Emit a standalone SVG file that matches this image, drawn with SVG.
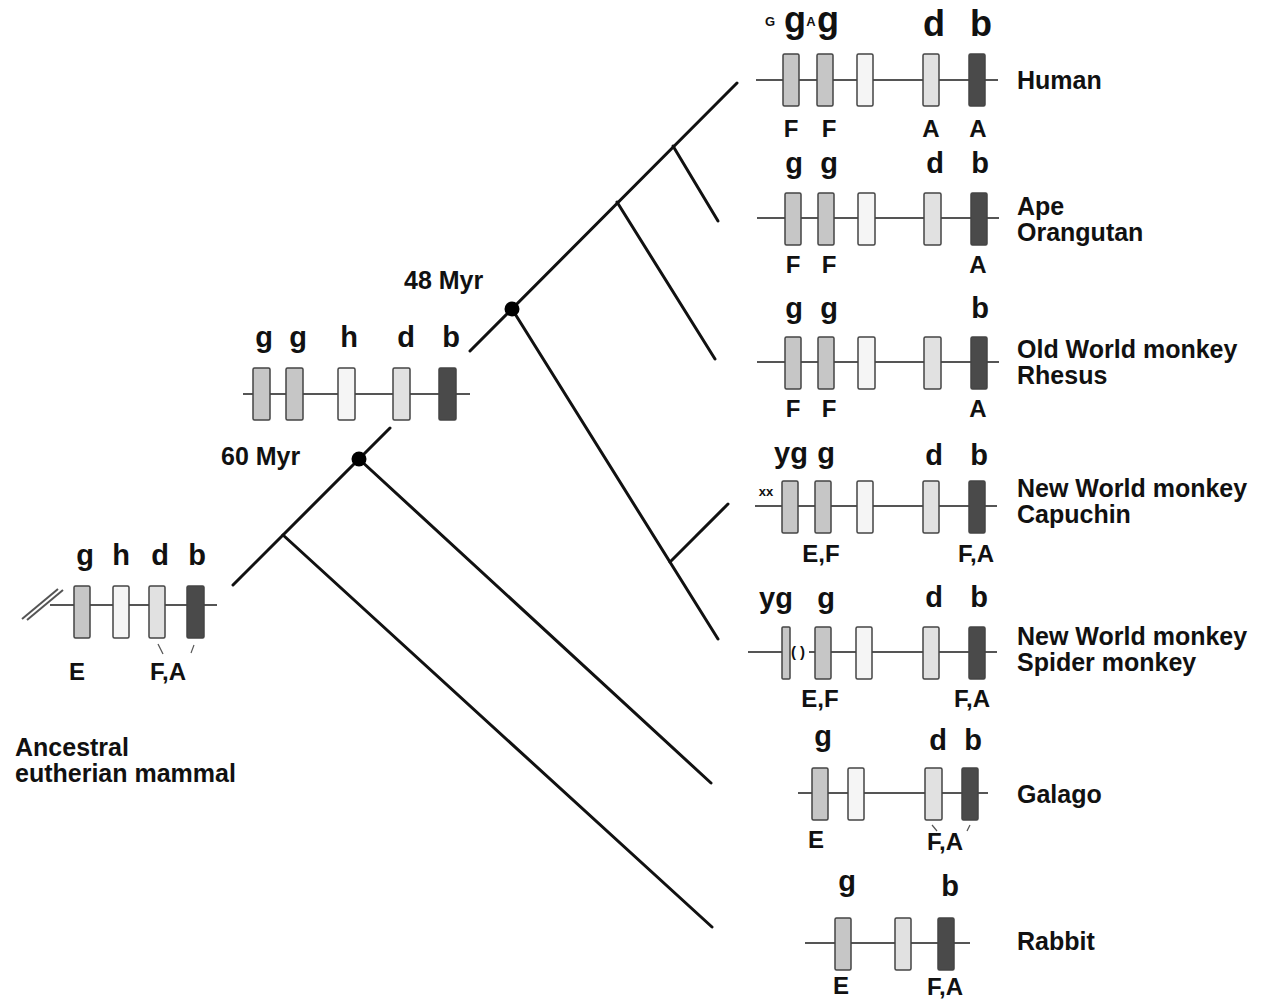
<svg xmlns="http://www.w3.org/2000/svg" width="1265" height="1000" viewBox="0 0 1265 1000">
  <style>
    text { font-family: "Liberation Sans", Arial, Helvetica, sans-serif; font-weight: bold; fill: #111; }
    .branch { stroke: #111; stroke-width: 3; stroke-linecap: round; fill: none; }
    .chrom { stroke: #555; stroke-width: 2; fill: none; }
    .tick { stroke: #555; stroke-width: 1.2; fill: none; }
    .box { stroke: #444; stroke-width: 1.5; }
    .g { fill: #c6c6c6; }
    .h { fill: #f5f5f5; }
    .d { fill: #e1e1e1; }
    .b { fill: #4a4a4a; }
    .gene { font-size: 29px; text-anchor: middle; }
    .gene-lg { font-size: 36px; text-anchor: middle; }
    .tiny { font-size: 13px; text-anchor: middle; }
    .sub { font-size: 24px; text-anchor: middle; }
    .sp { font-size: 25px; }
    .age { font-size: 25px; }
    .node { fill: #000; }
  </style>

  <!-- phylogeny branches -->
  <g id="connectors">
    <line class="branch" x1="233" y1="585" x2="390" y2="428"/>
    <line class="branch" x1="470" y1="351" x2="737" y2="83"/>
    <line class="branch" x1="673" y1="146" x2="718" y2="221"/>
    <line class="branch" x1="617" y1="202" x2="715" y2="359"/>
    <line class="branch" x1="512" y1="309" x2="718" y2="639"/>
    <line class="branch" x1="670" y1="562" x2="728" y2="504"/>
    <line class="branch" x1="359" y1="459" x2="711" y2="783"/>
    <line class="branch" x1="283" y1="535" x2="712" y2="927"/>
    <circle class="node" cx="512" cy="309" r="7.5"/>
    <circle class="node" cx="359" cy="459" r="7.5"/>
  </g>

  <g id="age-48">
    <text class="age" x="404" y="289">48 Myr</text>
  </g>
  <g id="age-60">
    <text class="age" x="221" y="465">60 Myr</text>
  </g>

  <!-- ancestral eutherian cluster -->
  <g id="ancestral">
    <line class="chrom" x1="22" y1="619" x2="58" y2="589"/>
    <line class="chrom" x1="27" y1="620" x2="63" y2="590"/>
    <line class="chrom" x1="50" y1="605" x2="217" y2="605"/>
    <rect class="box g" x="74" y="586" width="16" height="52" rx="1.5"/>
    <rect class="box h" x="113" y="586" width="16" height="52" rx="1.5"/>
    <rect class="box d" x="149" y="586" width="16" height="52" rx="1.5"/>
    <rect class="box b" x="187" y="586" width="17" height="52" rx="1.5"/>
    <text class="gene" x="85" y="565">g</text>
    <text class="gene" x="121" y="565">h</text>
    <text class="gene" x="160" y="565">d</text>
    <text class="gene" x="197" y="565">b</text>
    <line class="tick" x1="158" y1="644" x2="163" y2="654"/>
    <line class="tick" x1="194" y1="645" x2="191" y2="653"/>
    <text class="sub" x="77" y="680">E</text>
    <text class="sub" x="168" y="680">F,A</text>
    <text class="sp" x="15" y="756">Ancestral</text>
    <text class="sp" x="15" y="782">eutherian mammal</text>
  </g>

  <!-- primate ancestor cluster -->
  <g id="primate-ancestor">
    <line class="chrom" x1="243" y1="394" x2="470" y2="394"/>
    <rect class="box g" x="253" y="368" width="17" height="52" rx="1.5"/>
    <rect class="box g" x="286" y="368" width="17" height="52" rx="1.5"/>
    <rect class="box h" x="338" y="368" width="17" height="52" rx="1.5"/>
    <rect class="box d" x="393" y="368" width="17" height="52" rx="1.5"/>
    <rect class="box b" x="439" y="368" width="17" height="52" rx="1.5"/>
    <text class="gene" x="264" y="347">g</text>
    <text class="gene" x="298" y="347">g</text>
    <text class="gene" x="349" y="347">h</text>
    <text class="gene" x="406" y="347">d</text>
    <text class="gene" x="451" y="347">b</text>
  </g>

  <!-- Human -->
  <g id="human">
    <line class="chrom" x1="756" y1="80" x2="998" y2="80"/>
    <rect class="box g" x="783" y="54" width="16" height="52" rx="1.5"/>
    <rect class="box g" x="817" y="54" width="16" height="52" rx="1.5"/>
    <rect class="box h" x="857" y="54" width="16" height="52" rx="1.5"/>
    <rect class="box d" x="923" y="54" width="16" height="52" rx="1.5"/>
    <rect class="box b" x="969" y="54" width="16" height="52" rx="1.5"/>
    <text class="tiny" x="770" y="26">G</text>
    <text class="gene-lg" x="795" y="32">g</text>
    <text class="tiny" x="811" y="26">A</text>
    <text class="gene-lg" x="828" y="32">g</text>
    <text class="gene-lg" x="934" y="36">d</text>
    <text class="gene-lg" x="981" y="36">b</text>
    <text class="sub" x="791" y="137">F</text>
    <text class="sub" x="829" y="137">F</text>
    <text class="sub" x="931" y="137">A</text>
    <text class="sub" x="978" y="137">A</text>
    <text class="sp" x="1017" y="89">Human</text>
  </g>

  <!-- Ape / Orangutan -->
  <g id="orangutan">
    <line class="chrom" x1="757" y1="218" x2="999" y2="218"/>
    <rect class="box g" x="785" y="193" width="16" height="52" rx="1.5"/>
    <rect class="box g" x="818" y="193" width="16" height="52" rx="1.5"/>
    <rect class="box h" x="858" y="193" width="17" height="52" rx="1.5"/>
    <rect class="box d" x="924" y="193" width="17" height="52" rx="1.5"/>
    <rect class="box b" x="971" y="193" width="16" height="52" rx="1.5"/>
    <text class="gene" x="794" y="173">g</text>
    <text class="gene" x="829" y="173">g</text>
    <text class="gene" x="935" y="173">d</text>
    <text class="gene" x="980" y="173">b</text>
    <text class="sub" x="793" y="273">F</text>
    <text class="sub" x="829" y="273">F</text>
    <text class="sub" x="978" y="273">A</text>
    <text class="sp" x="1017" y="215">Ape</text>
    <text class="sp" x="1017" y="241">Orangutan</text>
  </g>

  <!-- Old World monkey / Rhesus -->
  <g id="rhesus">
    <line class="chrom" x1="757" y1="362" x2="999" y2="362"/>
    <rect class="box g" x="785" y="337" width="16" height="52" rx="1.5"/>
    <rect class="box g" x="818" y="337" width="16" height="52" rx="1.5"/>
    <rect class="box h" x="858" y="337" width="17" height="52" rx="1.5"/>
    <rect class="box d" x="924" y="337" width="17" height="52" rx="1.5"/>
    <rect class="box b" x="971" y="337" width="16" height="52" rx="1.5"/>
    <text class="gene" x="794" y="318">g</text>
    <text class="gene" x="829" y="318">g</text>
    <text class="gene" x="980" y="318">b</text>
    <text class="sub" x="793" y="417">F</text>
    <text class="sub" x="829" y="417">F</text>
    <text class="sub" x="978" y="417">A</text>
    <text class="sp" x="1017" y="358">Old World monkey</text>
    <text class="sp" x="1017" y="384">Rhesus</text>
  </g>

  <!-- New World monkey / Capuchin -->
  <g id="capuchin">
    <line class="chrom" x1="755" y1="506" x2="997" y2="506"/>
    <rect class="box g" x="782" y="481" width="16" height="52" rx="1.5"/>
    <rect class="box g" x="815" y="481" width="16" height="52" rx="1.5"/>
    <rect class="box h" x="857" y="481" width="16" height="52" rx="1.5"/>
    <rect class="box d" x="923" y="481" width="16" height="52" rx="1.5"/>
    <rect class="box b" x="969" y="481" width="16" height="52" rx="1.5"/>
    <text class="tiny" x="766" y="496">xx</text>
    <text class="gene" x="791" y="463">yg</text>
    <text class="gene" x="826" y="463">g</text>
    <text class="gene" x="934" y="465">d</text>
    <text class="gene" x="979" y="465">b</text>
    <text class="sub" x="821" y="562">E,F</text>
    <text class="sub" x="976" y="562">F,A</text>
    <text class="sp" x="1017" y="497">New World monkey</text>
    <text class="sp" x="1017" y="523">Capuchin</text>
  </g>

  <!-- New World monkey / Spider monkey -->
  <g id="spider-monkey">
    <line class="chrom" x1="748" y1="652" x2="782" y2="652"/>
    <line class="chrom" x1="809" y1="652" x2="997" y2="652"/>
    <rect class="box g" x="782" y="627" width="8" height="52" rx="1"/>
    <text x="798" y="657" style="font-size:15px;text-anchor:middle">( )</text>
    <rect class="box g" x="815" y="627" width="16" height="52" rx="1.5"/>
    <rect class="box h" x="856" y="627" width="16" height="52" rx="1.5"/>
    <rect class="box d" x="923" y="627" width="16" height="52" rx="1.5"/>
    <rect class="box b" x="969" y="627" width="16" height="52" rx="1.5"/>
    <text class="gene" x="776" y="608">yg</text>
    <text class="gene" x="826" y="608">g</text>
    <text class="gene" x="934" y="607">d</text>
    <text class="gene" x="979" y="607">b</text>
    <text class="sub" x="820" y="707">E,F</text>
    <text class="sub" x="972" y="707">F,A</text>
    <text class="sp" x="1017" y="645">New World monkey</text>
    <text class="sp" x="1017" y="671">Spider monkey</text>
  </g>

  <!-- Galago -->
  <g id="galago">
    <line class="chrom" x1="798" y1="793" x2="988" y2="793"/>
    <rect class="box g" x="812" y="768" width="16" height="52" rx="1.5"/>
    <rect class="box h" x="848" y="768" width="16" height="52" rx="1.5"/>
    <rect class="box d" x="925" y="768" width="17" height="52" rx="1.5"/>
    <rect class="box b" x="962" y="768" width="16" height="52" rx="1.5"/>
    <text class="gene" x="823" y="746">g</text>
    <text class="gene" x="938" y="750">d</text>
    <text class="gene" x="973" y="750">b</text>
    <line class="tick" x1="932" y1="825" x2="937" y2="831"/>
    <line class="tick" x1="970" y1="825" x2="967" y2="831"/>
    <text class="sub" x="816" y="848">E</text>
    <text class="sub" x="945" y="850">F,A</text>
    <text class="sp" x="1017" y="803">Galago</text>
  </g>

  <!-- Rabbit -->
  <g id="rabbit">
    <line class="chrom" x1="805" y1="943" x2="970" y2="943"/>
    <rect class="box g" x="835" y="918" width="16" height="52" rx="1.5"/>
    <rect class="box d" x="895" y="918" width="16" height="52" rx="1.5"/>
    <rect class="box b" x="938" y="918" width="16" height="52" rx="1.5"/>
    <text class="gene" x="847" y="891">g</text>
    <text class="gene" x="950" y="896">b</text>
    <text class="sub" x="841" y="994">E</text>
    <text class="sub" x="945" y="995">F,A</text>
    <text class="sp" x="1017" y="950">Rabbit</text>
  </g>
</svg>
